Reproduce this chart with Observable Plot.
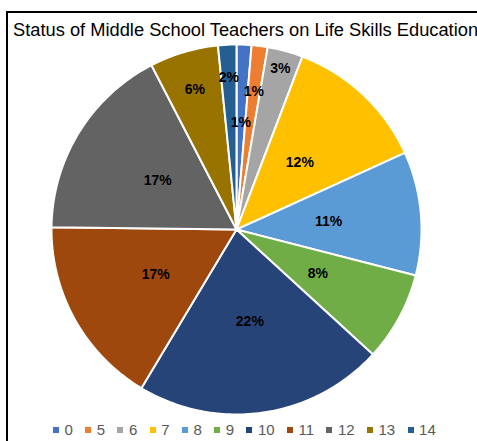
<!DOCTYPE html>
<html>
<head>
<meta charset="utf-8">
<script src="https://cdn.jsdelivr.net/npm/d3@7"></script>
<script src="https://cdn.jsdelivr.net/npm/@observablehq/plot@0.6"></script>
<style>
  html, body { margin: 0; padding: 0; background: #fff; width: 477px; height: 441px; overflow: hidden; }
  #frame { position: absolute; left: 6px; top: 11px; width: 520px; height: 480px; border-left: 2px solid #000; border-top: 2px solid #000; }
  #title { position: absolute; left: 13px; top: 18px; font-family: "Liberation Sans", Arial, sans-serif; font-size: 18.3px; color: #000; white-space: nowrap; line-height: 24px; }
  #chart { position: absolute; left: 8px; top: 43px; }
  #legend { position: absolute; left: 53px; top: 421px; display: flex; font-family: "Liberation Sans", Arial, sans-serif; font-size: 15px; color: #595959; line-height: 18px; }
  .item { display: flex; align-items: center; margin-right: 12.4px; }
  .sw { width: 6px; height: 6px; margin-right: 5.5px; }
</style>
</head>
<body>
<div id="frame"></div>
<div id="title">Status of Middle School Teachers on Life Skills Education</div>
<div id="chart"></div>
<div id="legend"></div>
<script>
const categories = ["0", "5", "6", "7", "8", "9", "10", "11", "12", "13", "14"];
const shares = [1.3, 1.4, 3.1, 12.4, 10.8, 7.8, 21.8, 16.6, 17.2, 6.0, 1.6];
const colors = ["#4472C4", "#ED7D31", "#A5A5A5", "#FFC000", "#5B9BD5", "#70AD47", "#264478", "#9E480E", "#636363", "#997300", "#255E91"];

// label placement (fraction of radius), best-fit style
const labelRadius = [0.58, 0.75, 0.9, 0.5, 0.5, 0.5, 0.5, 0.5, 0.5, 0.79, 0.82];

const R = 185;
const W = 456, H = 372;

const pie = d3.pie().sort(null).value(d => d.value).startAngle(0).endAngle(2 * Math.PI);
const data = categories.map((c, i) => ({cat: c, value: shares[i], i}));
const arcs = pie(data);
const total = d3.sum(shares);

const pts = [];
arcs.forEach(a => {
  const cat = a.data.cat;
  const span = a.endAngle - a.startAngle;
  const n = Math.max(2, Math.ceil(span / (Math.PI / 180)));
  pts.push({cat, x: 0, y: 0});
  for (let k = 0; k <= n; k++) {
    const t = a.startAngle + span * k / n;
    pts.push({cat, x: R * Math.sin(t), y: R * Math.cos(t)});
  }
  pts.push({cat, x: 0, y: 0});
});

const labels = arcs.map(a => {
  const m = (a.startAngle + a.endAngle) / 2;
  const r = R * labelRadius[a.data.i];
  return {x: r * Math.sin(m), y: r * Math.cos(m), text: Math.round(a.data.value / total * 100) + "%"};
});

const plot = Plot.plot({
  width: W,
  height: H,
  margin: 0,
  x: {domain: [-W / 2, W / 2], axis: null},
  y: {domain: [-H / 2, H / 2], axis: null},
  color: {domain: categories, range: colors},
  style: {background: "transparent", overflow: "visible"},
  marks: [
    Plot.line(pts, {x: "x", y: "y", z: "cat", fill: "cat", stroke: "#fff", strokeWidth: 2, strokeLinejoin: "round"}),
    Plot.text(labels, {x: "x", y: "y", text: "text", fill: "#000", fontWeight: "bold", fontSize: 14, fontFamily: "Liberation Sans, Arial, sans-serif"})
  ]
});
document.getElementById("chart").appendChild(plot);

const legend = document.getElementById("legend");
categories.forEach((c, i) => {
  const item = document.createElement("div");
  item.className = "item";
  const sw = document.createElement("span");
  sw.className = "sw";
  sw.style.background = colors[i];
  const tx = document.createElement("span");
  tx.textContent = c;
  item.appendChild(sw);
  item.appendChild(tx);
  legend.appendChild(item);
});
</script>
</body>
</html>
